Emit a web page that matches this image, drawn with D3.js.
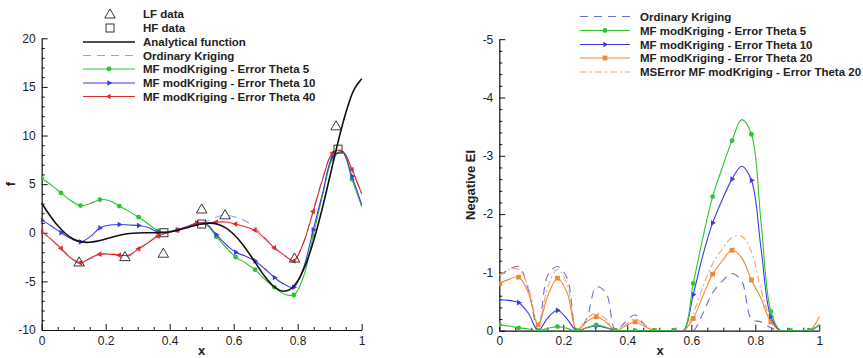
<!DOCTYPE html>
<html><head><meta charset="utf-8">
<script src="https://cdn.jsdelivr.net/npm/d3@7"></script>
<style>body{margin:0;background:#fff} svg{display:block;font-family:"Liberation Sans",Arial,sans-serif}</style>
</head><body><svg id="c" width="863" height="358"></svg>
<script>
// ---------- data ----------
const xGrid = [0,0.0303,0.0606,0.0909,0.1212,0.1515,0.1818,0.2121,0.2424,0.2727,0.3030,0.3333,0.3636,0.3939,0.4242,0.4545,0.4848,0.5152,0.5455,0.5758,0.6061,0.6364,0.6667,0.6970,0.7273,0.7576,0.7879,0.8182,0.8485,0.8788,0.9091,0.9394,0.9697,1.0];

const xAnalytic = [0,0.025,0.05,0.075,0.1,0.125,0.15,0.175,0.2,0.225,0.25,0.275,0.3,0.325,0.35,0.375,0.4,0.425,0.45,0.475,0.5,0.525,0.55,0.575,0.6,0.625,0.65,0.675,0.7,0.725,0.75,0.775,0.8,0.825,0.85,0.875,0.9,0.925,0.95,0.975,1.0];
const fAnalytic = [3.03,1.81,0.74,-0.10,-0.66,-0.94,-0.98,-0.85,-0.64,-0.41,-0.21,-0.08,-0.02,0.0,0.0,0.03,0.11,0.27,0.48,0.72,0.91,0.99,0.87,0.50,-0.15,-1.07,-2.21,-3.44,-4.61,-5.52,-5.99,-5.85,-4.95,-3.25,-0.80,2.27,5.71,9.19,12.30,14.65,15.83];

const lfX = [0.117,0.26,0.38,0.5,0.573,0.79,0.92];
const lfF = [-3.0,-2.45,-2.1,2.45,1.85,-2.6,11.0];
const hfX = [0.382,0.5,0.926];
const hfF = [0.0,0.9,8.6];

const leftOK    = [0.2,-0.7,-1.7,-2.6,-3.0,-2.7,-2.3,-2.1,-2.3,-2.4,-1.7,-1.0,-0.3,0.0,0.3,0.6,0.9,1.2,1.6,1.8,1.6,1.2,0.5,-0.5,-1.5,-2.3,-2.8,-1.0,2.3,5.7,8.2,8.5,6.4,4.0];
const leftTh5   = [5.6,4.9,4.1,3.3,2.8,3.0,3.4,3.3,2.75,2.2,1.6,0.9,0.2,0.05,0.27,0.6,0.95,0.8,-0.4,-1.5,-2.5,-3.1,-3.8,-4.8,-5.6,-6.3,-6.4,-4.5,-0.3,4.0,7.6,8.3,5.5,2.7];
const leftTh10  = [1.3,0.7,0.0,-0.6,-0.93,-0.4,0.5,0.8,0.85,0.8,0.75,0.55,0.05,0.05,0.3,0.65,1.0,0.9,-0.2,-1.2,-2.0,-2.4,-2.9,-3.7,-4.6,-5.3,-5.6,-3.6,0.3,4.2,7.8,8.3,5.8,2.9];
const leftTh40  = [0.15,-0.7,-1.6,-2.6,-3.1,-2.6,-2.2,-2.2,-2.3,-2.3,-1.65,-1.0,-0.35,0.0,0.27,0.6,0.95,1.0,1.1,1.1,0.9,0.6,0.27,-0.6,-1.55,-2.3,-2.9,-1.0,2.2,5.6,8.2,8.4,6.5,4.0];

const rightOK   = [-0.95,-1.05,-1.1,-0.7,0,-0.95,-1.1,-0.9,0,-0.2,-0.75,-0.65,0,-0.15,-0.27,-0.1,0,0,0,0,0,-0.3,-0.65,-0.85,-0.98,-0.85,-0.2,-0.15,-0.05,0,0,0,0,0];
const rightTh5  = [-0.1,-0.08,-0.05,-0.03,0,-0.04,-0.07,-0.04,0,-0.05,-0.1,-0.06,0,0,0,0,0,0,0,0,-0.81,-1.6,-2.3,-2.8,-3.26,-3.62,-3.37,-1.85,-0.33,0,0,0,0,-0.1];
const rightTh10 = [-0.53,-0.52,-0.48,-0.3,0,-0.22,-0.35,-0.2,0,-0.05,-0.08,-0.05,0,0,0,0,0,0,0,0,-0.62,-1.3,-1.85,-2.25,-2.6,-2.82,-2.58,-1.4,-0.24,0,0,0,0,-0.1];
const rightTh20 = [-0.81,-0.88,-0.92,-0.65,-0.1,-0.6,-0.9,-0.65,0,-0.15,-0.24,-0.15,0,-0.08,-0.15,-0.07,0,0,0,0,-0.21,-0.6,-0.97,-1.2,-1.38,-1.25,-0.87,-0.55,-0.15,0,0,0,0,-0.24];
const rightMSE  = [-0.95,-1.05,-1.05,-0.75,-0.1,-0.75,-1.05,-0.8,0,-0.2,-0.3,-0.2,0,-0.1,-0.2,-0.1,0,0,0,0,-0.3,-0.75,-1.15,-1.4,-1.6,-1.62,-1.35,-0.7,-0.2,0,0,0,0,-0.1];

const xTicks = [0,0.2,0.4,0.6,0.8,1];
const xMinor = [0.05,0.1,0.15,0.25,0.3,0.35,0.45,0.5,0.55,0.65,0.7,0.75,0.85,0.9,0.95];
const leftYTicks = [-10,-5,0,5,10,15,20];
const leftYMinor = [-9,-8,-7,-6,-4,-3,-2,-1,1,2,3,4,6,7,8,9,11,12,13,14,16,17,18,19];
const rightYTicks = [0,-1,-2,-3,-4,-5];
const rightYMinor = [-0.2,-0.4,-0.6,-0.8,-1.2,-1.4,-1.6,-1.8,-2.2,-2.4,-2.6,-2.8,-3.2,-3.4,-3.6,-3.8,-4.2,-4.4,-4.6,-4.8];

const leftLegend = ["LF data","HF data","Analytical function","Ordinary Kriging","MF modKriging - Error Theta 5","MF modKriging - Error Theta 10","MF modKriging - Error Theta 40"];
const rightLegend = ["Ordinary Kriging","MF modKriging - Error Theta 5","MF modKriging - Error Theta 10","MF modKriging - Error Theta 20","MSError MF modKriging - Error Theta 20"];

// ---------- styles ----------
const C = {green:"#2fc42f", blue:"#3a3ae6", red:"#dd2a2a", orange:"#ee8836", okL:"#8ea6e6", okR:"#6d6dd6", mse:"#f3a864"};

const svg = d3.select("#c");

// ---------- scales ----------
const xL = d3.scaleLinear().domain([0,1]).range([41.7,361.7]);
const yL = d3.scaleLinear().domain([-10,20]).range([330,38.3]);
const xR = d3.scaleLinear().domain([0,1]).range([499.3,819.3]);
const yR = d3.scaleLinear().domain([0,-5]).range([330.7,39.2]);

function drawAxes(x, y, yt, ym, yTitle, yTitleX, xTitleX){
  const g = svg.append("g");
  const fmt = d => String(d);
  g.append("g").attr("transform",`translate(0,${y.range()[0]})`)
    .call(d3.axisBottom(x).tickValues(xTicks).tickFormat(fmt).tickSizeInner(-6).tickSizeOuter(0).tickPadding(6));
  g.append("g").attr("transform",`translate(0,${y.range()[0]})`)
    .call(d3.axisBottom(x).tickValues(xMinor).tickFormat("").tickSizeInner(-3).tickSizeOuter(0)).select(".domain").remove();
  g.append("g").attr("transform",`translate(${x.range()[0]},0)`)
    .call(d3.axisLeft(y).tickValues(yt).tickFormat(fmt).tickSizeInner(-6).tickSizeOuter(0).tickPadding(6));
  g.append("g").attr("transform",`translate(${x.range()[0]},0)`)
    .call(d3.axisLeft(y).tickValues(ym).tickFormat("").tickSizeInner(-3).tickSizeOuter(0)).select(".domain").remove();
  g.selectAll("text").attr("font-size",12).attr("fill","#222").attr("font-family","Liberation Sans, Arial, sans-serif");
  g.selectAll("line,path").attr("stroke","#111");
  g.selectAll(".domain").attr("stroke-width",1.2);
  svg.append("text").attr("x",xTitleX).attr("y",355).attr("text-anchor","middle")
    .attr("font-size",13).attr("font-weight","bold").attr("fill","#222").text("x");
  svg.append("text").attr("transform",`translate(${yTitleX},${(y.range()[0]+y.range()[1])/2}) rotate(-90)`)
    .attr("text-anchor","middle").attr("font-size",13).attr("font-weight","bold").attr("fill","#222").text(yTitle);
}

drawAxes(xL, yL, leftYTicks, leftYMinor, "f", 15, 201.7);
drawAxes(xR, yR, rightYTicks, rightYMinor, "Negative EI", 475, 660);

// clip paths
const defs = svg.append("defs");
defs.append("clipPath").attr("id","clipL").append("rect").attr("x",41).attr("y",30).attr("width",325).attr("height",300.5);
defs.append("clipPath").attr("id","clipR").append("rect").attr("x",499).attr("y",30).attr("width",325).attr("height",301);

function series(g, x, y, xs, ys, color, dash, width, marker){
  const pts = xs.map((d,i)=>[d, ys[i]]);
  const line = d3.line().x(d=>x(d[0])).y(d=>y(d[1])).curve(d3.curveCatmullRom.alpha(0.5));
  g.append("path").attr("d", line(pts)).attr("fill","none").attr("stroke",color)
    .attr("stroke-width",width).attr("stroke-dasharray",dash||null);
  if(marker){
    pts.filter((d,i)=>i%2===0).forEach(d=>drawMarker(g, x(d[0]), y(d[1]), marker, color));
  }
}
function drawMarker(g, px, py, type, color){
  if(type==="circle"){
    g.append("circle").attr("cx",px).attr("cy",py).attr("r",2.4).attr("fill",color);
  } else if(type==="square"){
    g.append("rect").attr("x",px-2.4).attr("y",py-2.4).attr("width",4.8).attr("height",4.8).attr("fill",color);
  } else if(type==="tri-right" || type==="tri-left"){
    g.append("path").attr("d", d3.symbol().type(d3.symbolTriangle).size(14)())
      .attr("transform",`translate(${px},${py}) rotate(${type==="tri-right"?90:-90})`).attr("fill",color);
  }
}

// ---------- left chart ----------
const gL = svg.append("g").attr("clip-path","url(#clipL)");
series(gL, xL, yL, xGrid, leftOK, C.okL, "8,6", 1.1, null);
series(gL, xL, yL, xGrid, leftTh5, C.green, null, 1.1, "circle");
series(gL, xL, yL, xGrid, leftTh10, C.blue, null, 1.1, "tri-right");
series(gL, xL, yL, xGrid, leftTh40, C.red, null, 1.1, "tri-left");
series(gL, xL, yL, xAnalytic, fAnalytic, "#111", null, 1.6, null);
const tri = d3.symbol().type(d3.symbolTriangle).size(48)();
lfX.forEach((d,i)=>{
  svg.append("path").attr("d",tri).attr("transform",`translate(${xL(d)},${yL(lfF[i])+1})`)
    .attr("fill","none").attr("stroke","#222").attr("stroke-width",0.9);
});
hfX.forEach((d,i)=>{
  svg.append("rect").attr("x",xL(d)-4).attr("y",yL(hfF[i])-4).attr("width",8).attr("height",8)
    .attr("fill","none").attr("stroke","#222").attr("stroke-width",0.9);
});

// ---------- right chart ----------
const gR = svg.append("g").attr("clip-path","url(#clipR)");
series(gR, xR, yR, xGrid, rightOK, C.okR, "8,6", 1.1, null);
series(gR, xR, yR, xGrid, rightMSE, C.mse, "7,3,2,3", 1.1, null);
series(gR, xR, yR, xGrid, rightTh20, C.orange, null, 1.1, "square");
series(gR, xR, yR, xGrid, rightTh10, C.blue, null, 1.1, "tri-right");
series(gR, xR, yR, xGrid, rightTh5, C.green, null, 1.1, "circle");

// ---------- legends ----------
const legFont = 11.5;
const lRows = [14,28,42,55.5,69,83,96.5];
const lg = svg.append("g");
lRows.forEach((yy,i)=>{
  lg.append("text").attr("x",143).attr("y",yy+4).attr("font-size",legFont).attr("font-weight","bold")
    .attr("fill","#222").text(leftLegend[i]);
});
lg.append("path").attr("d",tri).attr("transform",`translate(110,${lRows[0]+1})`).attr("fill","none").attr("stroke","#222").attr("stroke-width",0.9);
lg.append("rect").attr("x",106).attr("y",lRows[1]-4).attr("width",8).attr("height",8).attr("fill","none").attr("stroke","#222").attr("stroke-width",0.9);
const legLine = (g,x1,x2,yy,color,dash,w)=>g.append("line").attr("x1",x1).attr("x2",x2).attr("y1",yy).attr("y2",yy)
  .attr("stroke",color).attr("stroke-width",w||1.1).attr("stroke-dasharray",dash||null);
legLine(lg,83,135,lRows[2],"#111",null,1.6);
legLine(lg,83,135,lRows[3],C.okL,"8,6");
legLine(lg,83,135,lRows[4],C.green); drawMarker(lg,109,lRows[4],"circle",C.green);
legLine(lg,83,135,lRows[5],C.blue); drawMarker(lg,109,lRows[5],"tri-right",C.blue);
legLine(lg,83,135,lRows[6],C.red); drawMarker(lg,109,lRows[6],"tri-left",C.red);

const rRows = [16.5,30.5,44.5,58,72];
const rg = svg.append("g");
rRows.forEach((yy,i)=>{
  rg.append("text").attr("x",640).attr("y",yy+4).attr("font-size",legFont).attr("font-weight","bold")
    .attr("fill","#222").text(rightLegend[i]);
});
legLine(rg,580,630,rRows[0],C.okR,"8,6");
legLine(rg,580,630,rRows[1],C.green); drawMarker(rg,605,rRows[1],"circle",C.green);
legLine(rg,580,630,rRows[2],C.blue); drawMarker(rg,605,rRows[2],"tri-right",C.blue);
legLine(rg,580,630,rRows[3],C.orange); drawMarker(rg,605,rRows[3],"square",C.orange);
legLine(rg,580,630,rRows[4],C.mse,"7,3,2,3");
</script></body></html>
